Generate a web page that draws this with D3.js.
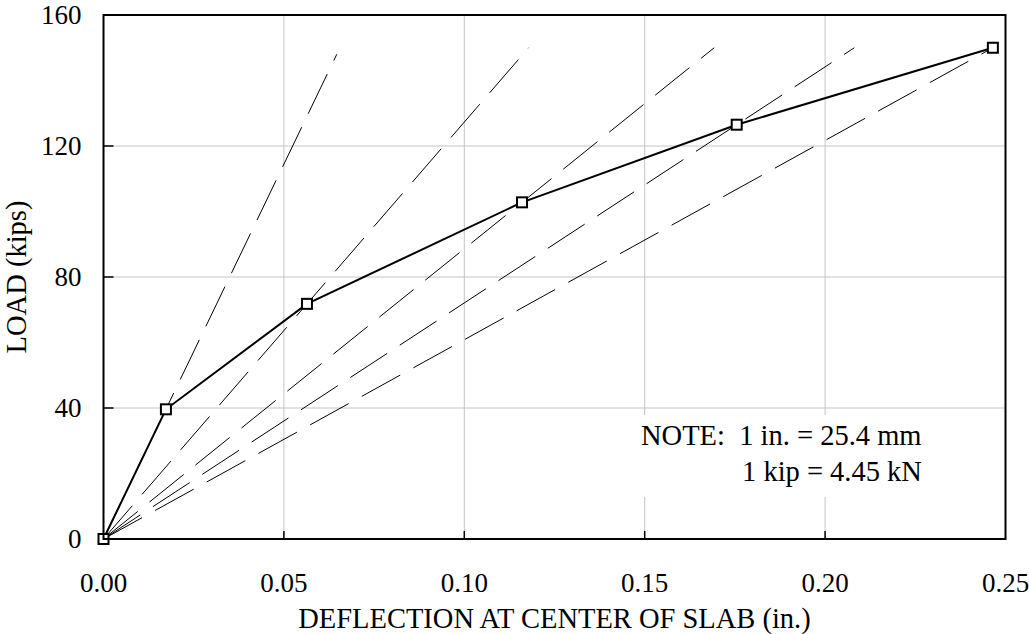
<!DOCTYPE html>
<html>
<head>
<meta charset="utf-8">
<script src="https://cdn.jsdelivr.net/npm/d3@7"></script>
<style>
  body { margin: 0; background: #fff; }
  svg { display: block; }
  svg text { font-family: "Liberation Serif", "Times New Roman", Times, "DejaVu Serif", serif; }
</style>
</head>
<body>
<div id="chart"></div>
<script>
// measured load-deflection points
const deflection = [0, 0.0173, 0.0564, 0.116, 0.1755, 0.2465];
const load = [0, 39.6, 71.8, 102.8, 126.5, 150];
// secant lines from origin through each point, drawn up to these loads
const secantEndLoad = [148, 150, 150, 150, 150];
const xTicks = [0, 0.05, 0.10, 0.15, 0.20, 0.25];
const yTicks = [0, 40, 80, 120, 160];
const noteLines = ['NOTE:\u00a0\u00a01 in. = 25.4 mm', '1 kip = 4.45 kN'];

const width = 1029;
const height = 634;
const margin = { top: 15, right: 23.5, bottom: 95, left: 103.5 };
const innerW = width - margin.left - margin.right;
const innerH = height - margin.top - margin.bottom;
const tickSize = 27;
const titleSize = 28.5;

const svg = d3.select('#chart').append('svg')
  .attr('width', width)
  .attr('height', height)
  .attr('font-family', '"Liberation Serif", "Times New Roman", serif');

const g = svg.append('g')
  .attr('transform', `translate(${margin.left},${margin.top})`);

const x = d3.scaleLinear().domain([0, 0.25]).range([0, innerW]);
const y = d3.scaleLinear().domain([0, 160]).range([innerH, 0]);

// grid
g.append('g').selectAll('line')
  .data(xTicks.slice(1, -1))
  .join('line')
  .attr('x1', (d) => x(d)).attr('x2', (d) => x(d))
  .attr('y1', 0).attr('y2', innerH)
  .attr('stroke', '#c4c4c4').attr('stroke-width', 1);

g.append('g').selectAll('line')
  .data(yTicks.slice(1, -1))
  .join('line')
  .attr('x1', 0).attr('x2', innerW)
  .attr('y1', (d) => y(d)).attr('y2', (d) => y(d))
  .attr('stroke', '#c4c4c4').attr('stroke-width', 1);

// white box behind the note
g.append('rect')
  .attr('x', 620 - margin.left).attr('y', 415 - margin.top)
  .attr('width', 325).attr('height', 82)
  .attr('fill', '#fff');

// secant (dashed) lines
const secants = deflection.slice(1).map((d, i) => {
  const slope = load[i + 1] / d;
  const endLoad = secantEndLoad[i];
  return [[0, 0], [endLoad / slope, endLoad]];
});

g.append('g').selectAll('line')
  .data(secants)
  .join('line')
  .attr('x1', (d) => x(d[0][0])).attr('y1', (d) => y(d[0][1]))
  .attr('x2', (d) => x(d[1][0])).attr('y2', (d) => y(d[1][1]))
  .attr('stroke', '#000')
  .attr('stroke-width', 1)
  .attr('stroke-dasharray', '44,15');

// measured curve
const pts = deflection.map((d, i) => [d, load[i]]);
g.append('path')
  .datum(pts)
  .attr('d', d3.line().x((d) => x(d[0])).y((d) => y(d[1])))
  .attr('fill', 'none')
  .attr('stroke', '#000')
  .attr('stroke-width', 2);

const sq = 10;
g.append('g').selectAll('rect')
  .data(pts)
  .join('rect')
  .attr('x', (d) => x(d[0]) - sq / 2)
  .attr('y', (d) => y(d[1]) - sq / 2)
  .attr('width', sq).attr('height', sq)
  .attr('fill', '#fff')
  .attr('stroke', '#000')
  .attr('stroke-width', 2);

// inward ticks
g.append('g').selectAll('line')
  .data(yTicks.slice(1, -1))
  .join('line')
  .attr('x1', 0).attr('x2', 10)
  .attr('y1', (d) => y(d)).attr('y2', (d) => y(d))
  .attr('stroke', '#000').attr('stroke-width', 1.5);

g.append('g').selectAll('line')
  .data(xTicks.slice(1, -1))
  .join('line')
  .attr('x1', (d) => x(d)).attr('x2', (d) => x(d))
  .attr('y1', innerH).attr('y2', innerH - 8)
  .attr('stroke', '#000').attr('stroke-width', 1.5);

// frame
g.append('rect')
  .attr('width', innerW).attr('height', innerH)
  .attr('fill', 'none')
  .attr('stroke', '#000')
  .attr('stroke-width', 2);

// tick labels
g.append('g').selectAll('text')
  .data(yTicks)
  .join('text')
  .attr('x', -22)
  .attr('y', (d) => y(d))
  .attr('dy', '0.35em')
  .attr('text-anchor', 'end')
  .style('font-size', `${tickSize}px`)
  .text((d) => d);

g.append('g').selectAll('text')
  .data(xTicks)
  .join('text')
  .attr('x', (d) => x(d))
  .attr('y', 592 - margin.top)
  .attr('text-anchor', 'middle')
  .style('font-size', `${tickSize}px`)
  .text((d) => d3.format('.2f')(d));

// axis titles
svg.append('text')
  .attr('x', margin.left + innerW / 2)
  .attr('y', 628)
  .attr('text-anchor', 'middle')
  .style('font-size', `${titleSize}px`)
  .text('DEFLECTION AT CENTER OF SLAB (in.)');

svg.append('text')
  .attr('transform', `translate(26,${margin.top + innerH / 2}) rotate(-90)`)
  .attr('text-anchor', 'middle')
  .style('font-size', `${titleSize}px`)
  .text('LOAD (kips)');

// note
svg.append('text')
  .attr('x', 641)
  .attr('y', 445)
  .style('font-size', `${titleSize}px`)
  .text(noteLines[0]);

svg.append('text')
  .attr('x', 742)
  .attr('y', 481)
  .style('font-size', `${titleSize}px`)
  .text(noteLines[1]);
</script>
</body>
</html>
